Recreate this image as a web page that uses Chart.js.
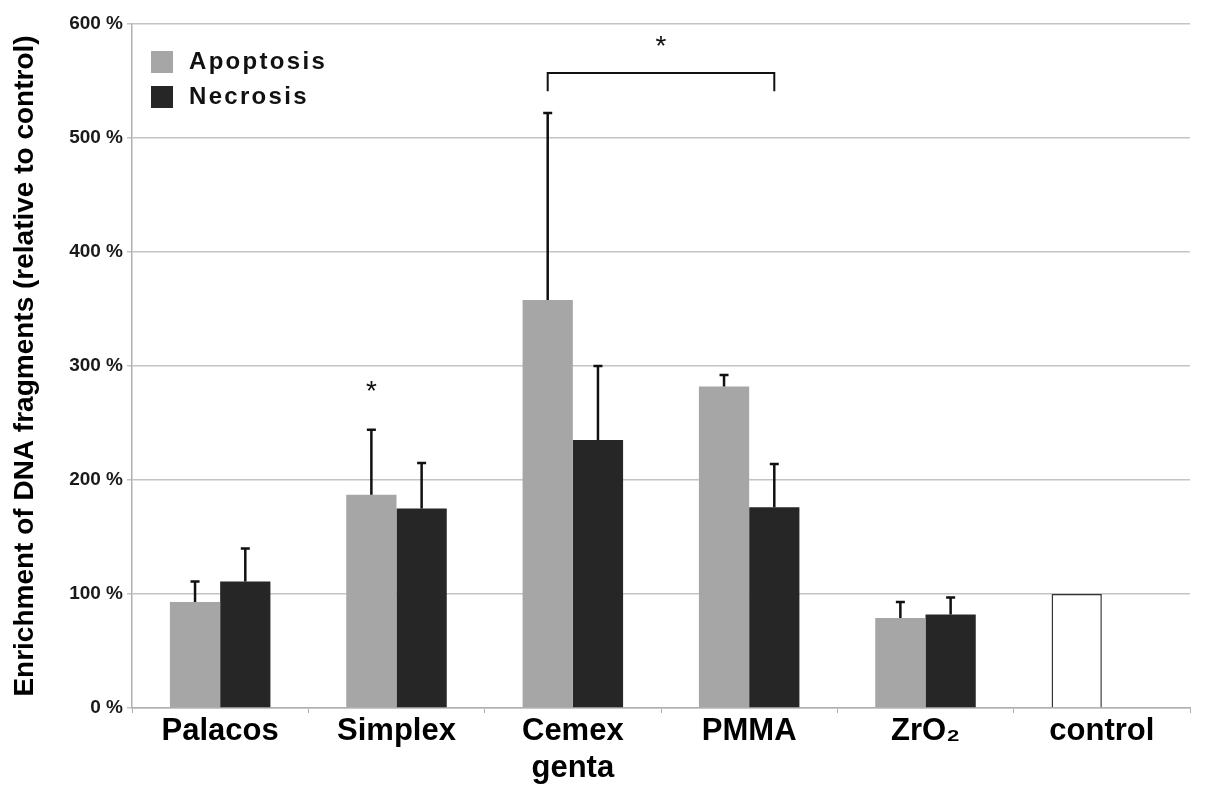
<!DOCTYPE html>
<html>
  <head>
    <title>DNA fragments</title>
    <script src="https://cdn.jsdelivr.net/npm/chart.js@4.4.1/dist/chart.umd.min.js"></script>
    <style>
      body { margin: 0; background: #fff; }
    </style>
  </head>
  <body>
    <canvas id="canvas" width="1205" height="800"></canvas>
    <script>
      // values, in % relative to control
      const categories = ['Palacos', 'Simplex', ['Cemex', 'genta'], 'PMMA', 'ZrO\u2082', 'control'];
      const apoptosis = [93, 187, 358, 282, 79, 100];
      const necrosis = [111, 175, 235, 176, 82, null];
      // top of each error bar
      const apoptosisErr = [111, 244, 522, 292, 93, null];
      const necrosisErr = [140, 215, 300, 214, 97, null];

      const APO = '#a6a6a6', NEC = '#262626';
      const FONT = 'Arial, "Liberation Sans"';

      // error bars, significance stars and bracket
      const extras = {
        id: 'extras',
        afterDatasetsDraw(chart) {
          const ctx = chart.ctx, y = chart.scales.y;
          ctx.save();
          ctx.strokeStyle = '#111';
          ctx.lineWidth = 2.5;
          [apoptosisErr, necrosisErr].forEach((errs, di) => {
            const meta = chart.getDatasetMeta(di);
            errs.forEach((e, i) => {
              if (e == null) return;
              const bar = meta.data[i];
              const yt = y.getPixelForValue(e);
              ctx.beginPath();
              ctx.moveTo(bar.x, bar.y);
              ctx.lineTo(bar.x, yt);
              ctx.moveTo(bar.x - 4.5, yt);
              ctx.lineTo(bar.x + 4.5, yt);
              ctx.stroke();
            });
          });
          // bracket Cemex apoptosis -> PMMA necrosis
          const x1 = chart.getDatasetMeta(0).data[2].x;
          const x2 = chart.getDatasetMeta(1).data[3].x;
          const yb = y.getPixelForValue(557), ye = y.getPixelForValue(541);
          ctx.lineWidth = 2;
          ctx.beginPath();
          ctx.moveTo(x1, ye);
          ctx.lineTo(x1, yb);
          ctx.lineTo(x2, yb);
          ctx.lineTo(x2, ye);
          ctx.stroke();
          ctx.fillStyle = '#111';
          ctx.font = '28px ' + FONT;
          ctx.textAlign = 'center';
          ctx.textBaseline = 'middle';
          ctx.fillText('*', (x1 + x2) / 2, y.getPixelForValue(580));
          const sx = chart.getDatasetMeta(0).data[1].x;
          ctx.fillText('*', sx, y.getPixelForValue(277));
          ctx.restore();
        }
      };

      // legend in the top-left corner of the plot
      const insideLegend = {
        id: 'insideLegend',
        afterDraw(chart) {
          const ctx = chart.ctx, a = chart.chartArea;
          ctx.save();
          ctx.font = 'bold 24px ' + FONT;
          ctx.letterSpacing = '2.3px';
          ctx.textBaseline = 'middle';
          chart.data.datasets.forEach((ds, i) => {
            const cy = a.top + 38 + i * 35;
            ctx.fillStyle = ds.legendColor;
            ctx.fillRect(a.left + 19, cy - 11, 22, 22);
            ctx.fillStyle = '#111';
            ctx.fillText(ds.label, a.left + 57, cy);
          });
          ctx.restore();
        }
      };

      new Chart(document.getElementById('canvas'), {
        type: 'bar',
        data: {
          labels: categories,
          datasets: [
            {
              label: 'Apoptosis',
              data: apoptosis,
              legendColor: APO,
              backgroundColor: apoptosis.map((v, i) => i === 5 ? '#ffffff' : APO),
              borderColor: apoptosis.map((v, i) => i === 5 ? '#333333' : APO),
              borderWidth: apoptosis.map((v, i) => i === 5 ? 1.5 : 0),
              categoryPercentage: 0.57,
              barPercentage: 1.0
            },
            {
              label: 'Necrosis',
              data: necrosis,
              legendColor: NEC,
              backgroundColor: NEC,
              categoryPercentage: 0.57,
              barPercentage: 1.0
            }
          ]
        },
        options: {
          responsive: false,
          animation: false,
          layout: { padding: { top: 24, right: 15, left: 8, bottom: 0 } },
          plugins: { legend: { display: false }, tooltip: { enabled: false } },
          scales: {
            x: {
              afterFit(s) { s.height = 800 - 708; },
              border: { color: '#b0b0b0', width: 1.5 },
              grid: { drawOnChartArea: false, drawTicks: true, tickLength: 5, color: '#b0b0b0' },
              ticks: {
                color: '#000',
                font: { family: FONT, size: 31, weight: 'bold', lineHeight: 1.2 },
                padding: 0,
                maxRotation: 0
              }
            },
            y: {
              min: 0,
              max: 600,
              afterFit(s) { s.width = 132 - 8; },
              border: { color: '#b0b0b0', width: 1.5 },
              grid: { color: '#c4c4c4', lineWidth: 1.5, tickLength: 5 },
              ticks: {
                stepSize: 100,
                color: '#1a1a1a',
                font: { family: FONT, size: 19, weight: 'bold' },
                padding: 4,
                callback: v => v + ' %'
              },
              title: {
                display: true,
                text: 'Enrichment of DNA fragments (relative to control)',
                color: '#000',
                font: { family: FONT, size: 28, weight: 'bold' },
                padding: { top: 0, bottom: 2 }
              }
            }
          }
        },
        plugins: [extras, insideLegend]
      });
    </script>
  </body>
</html>
